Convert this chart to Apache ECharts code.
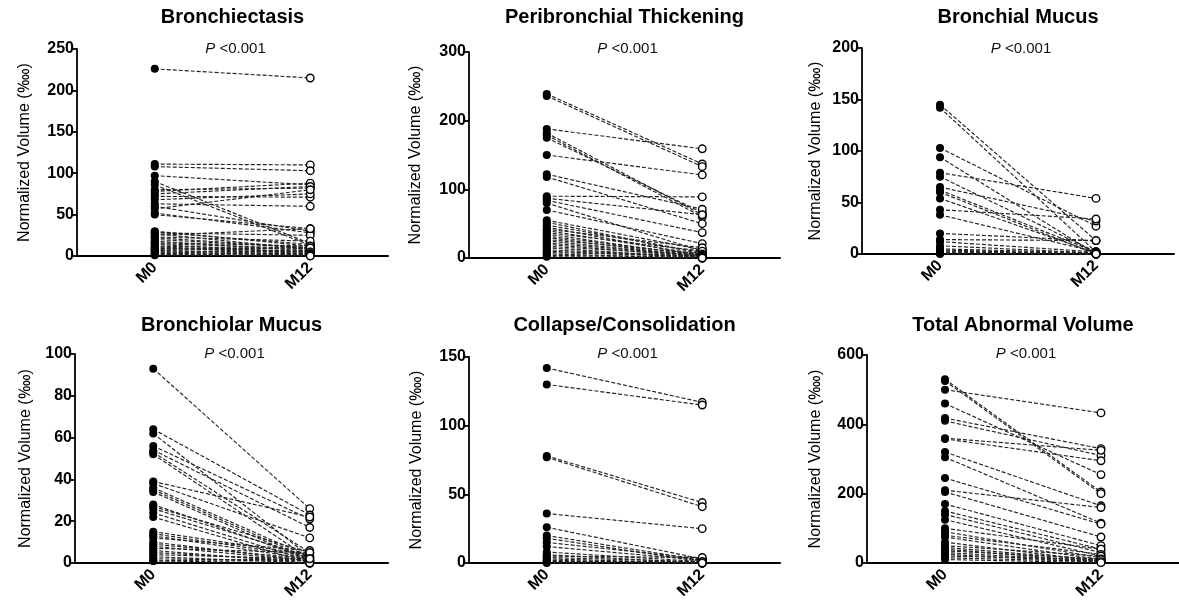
<!DOCTYPE html>
<html>
<head>
<meta charset="utf-8">
<script src="https://cdn.jsdelivr.net/npm/echarts@6/dist/echarts.min.js"></script>
<style>
  html, body { margin: 0; padding: 0; background: #fff; }
  #chart { width: 1179px; height: 608px; }
</style>
</head>
<body>
<div id="chart"></div>
<script>
// ---------- data ----------
const categories = ['M0', 'M12'];
const panelTitles = ['Bronchiectasis', 'Peribronchial Thickening', 'Bronchial Mucus',
                     'Bronchiolar Mucus', 'Collapse/Consolidation', 'Total Abnormal Volume'];
const pValueText = 'P <0.001';
const yAxisName = 'Normalized Volume (\u2031)';
const yMax = [250, 300, 200, 100, 150, 600];
const yInterval = [50, 100, 50, 20, 50, 200];

const bronchiectasisM0  = [226,111,108,97,90,86,80,78,75,72,68,63,60,57,52,50,30,29,28,27,25,23,22,20,18,16,15,14,12,11,10,9,8,7,6,5,4,3,2,1];
const bronchiectasisM12 = [215,110,103,86,15,13,82,88,84,71,75,60,30,80,28,33,12,14,25,8,33,18,10,10,6,12,9,4,8,5,3,6,10,2,5,1,3,2,1,0];

const peribronchialM0  = [239,236,188,182,179,175,150,122,118,90,87,84,80,70,55,52,48,45,42,40,37,35,32,30,27,25,22,20,17,15,12,10,8,6,4,2];
const peribronchialM12 = [137,133,159,63,60,66,121,71,50,89,63,37,10,21,12,6,8,3,15,5,10,2,4,1,6,2,3,1,4,0,2,1,3,0,1,0];

const bronchialMucusM0  = [145,142,103,94,79,75,65,62,60,54,43,38,20,14,12,8,5,4,3,2,1,1,0];
const bronchialMucusM12 = [13,2,27,0,54,2,32,2,0,1,34,2,13,13,2,1,1,0,0,0,0,1,0];

const bronchiolarM0  = [93,64,62,56,54,53,52,39,38,36,35,34,28,27,26,24,22,15,14,13,12,10,9,8,7,6,5,4,3,2,1,1];
const bronchiolarM12 = [26,23,3,21,17,5,2,22,12,3,2,1,2,5,3,1,0,4,3,2,6,1,2,1,5,0,1,2,0,1,0,2];

const collapseM0  = [142,130,78,77,36,26,20,18,15,12,8,6,5,4,3,2,1,1,0];
const collapseM12 = [117,115,44,41,25,3,2,1,3,2,1,0,4,1,0,0,0,1,0];

const totalM0  = [530,525,500,460,418,410,360,358,320,305,245,210,205,170,150,140,125,100,90,80,75,60,50,45,40,35,30,25,20,15,10];
const totalM12 = [205,200,433,255,330,310,325,295,165,115,112,160,75,50,40,30,20,40,15,25,10,5,20,8,3,12,5,2,10,4,1];

const panelM0  = [bronchiectasisM0, peribronchialM0, bronchialMucusM0, bronchiolarM0, collapseM0, totalM0];
const panelM12 = [bronchiectasisM12, peribronchialM12, bronchialMucusM12, bronchiolarM12, collapseM12, totalM12];

// ---------- layout ----------
const FONT = '"Liberation Sans", Arial, Helvetica, sans-serif';
const boxes = [
  {left: 77,  top: 49,  width: 311, height: 207},
  {left: 469, top: 52,  width: 311, height: 206},
  {left: 862, top: 48,  width: 312, height: 206},
  {left: 75,  top: 354, width: 313, height: 209},
  {left: 469, top: 357, width: 311, height: 206},
  {left: 867, top: 355, width: 312, height: 208}
];
const nameGaps = [44, 45, 38, 41, 44, 43];
const titleY = [17.5, 17.5, 17.5, 325, 325, 325];
const pY = [49, 49, 49, 354, 354, 354];

const grid = [], xAxis = [], yAxis = [], series = [], graphic = [];

boxes.forEach((b, p) => {
  grid.push({left: b.left, top: b.top, width: b.width, height: b.height, containLabel: false});
  xAxis.push({
    type: 'category', gridIndex: p, data: categories, boundaryGap: true,
    axisLine: {show: true, onZero: false, lineStyle: {color: '#000', width: 2}},
    axisTick: {show: false},
    axisLabel: {rotate: 45, margin: 9, color: '#000', fontWeight: 'bold', fontSize: 16, fontFamily: FONT},
    splitLine: {show: false}
  });
  yAxis.push({
    type: 'value', gridIndex: p, min: 0, max: yMax[p], interval: yInterval[p],
    name: yAxisName, nameLocation: 'middle', nameGap: nameGaps[p],
    nameTextStyle: {color: '#000', fontSize: 16, fontFamily: FONT},
    axisLine: {show: true, lineStyle: {color: '#000', width: 1.8}},
    axisTick: {show: true, inside: false, length: 5, lineStyle: {color: '#000', width: 1.8}},
    axisLabel: {margin: 3, color: '#000', fontWeight: 'bold', fontSize: 16, fontFamily: FONT},
    splitLine: {show: false}
  });
  const cx = b.left + b.width / 2;
  graphic.push({
    type: 'text', x: cx, y: titleY[p], silent: true,
    style: {text: panelTitles[p], fill: '#000', font: 'bold 20px ' + FONT,
            textAlign: 'center', textVerticalAlign: 'middle'}
  });
  graphic.push({
    type: 'text', x: cx + 3, y: pY[p], silent: true,
    style: {text: '{i|P} <0.001', fill: '#111', font: '15px ' + FONT,
            textAlign: 'center', textVerticalAlign: 'middle',
            rich: {i: {fontStyle: 'italic', fontSize: 15, fontFamily: FONT, fill: '#111'}}}
  });

  const m0 = panelM0[p], m12 = panelM12[p];
  for (let i = 0; i < m0.length; i++) {
    series.push({
      type: 'line', xAxisIndex: p, yAxisIndex: p, silent: true,
      symbol: 'circle', symbolSize: 8, clip: false,
      lineStyle: {color: '#222', width: 1.15, type: [4, 2]},
      data: [
        {value: m0[i], itemStyle: {color: '#000', borderColor: '#000', borderWidth: 0}},
        {value: m12[i], symbolSize: 7.5, itemStyle: {color: '#fff', borderColor: '#000', borderWidth: 1.4}}
      ]
    });
  }
});

const chart = echarts.init(document.getElementById('chart'), null, {renderer: 'canvas'});
chart.setOption({
  animation: false,
  backgroundColor: '#fff',
  textStyle: {fontFamily: FONT},
  grid, xAxis, yAxis, series, graphic
});
</script>
</body>
</html>
